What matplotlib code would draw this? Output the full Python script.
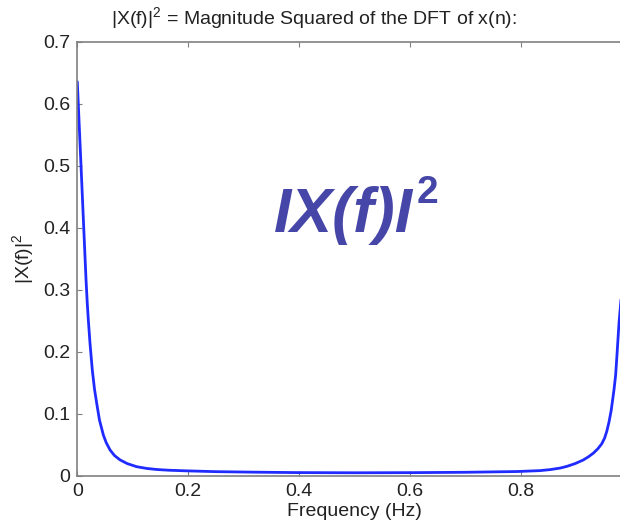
import numpy as np
import matplotlib
matplotlib.use('Agg')
import matplotlib.pyplot as plt

# |X(f)|^2 samples over one period (Hz)
freqs = [0.0, 0.0040, 0.0079, 0.0120, 0.0157, 0.018, 0.020, 0.0229, 0.025,
         0.027, 0.031, 0.035, 0.040, 0.047, 0.052, 0.059, 0.067, 0.077,
         0.090, 0.107, 0.125, 0.143, 0.165, 0.197, 0.25, 0.317, 0.395,
         0.5, 0.6, 0.7, 0.792, 0.834, 0.852, 0.870, 0.882, 0.897, 0.912,
         0.921, 0.930, 0.938, 0.945, 0.950, 0.954, 0.958, 0.962, 0.967,
         0.970, 0.972, 0.974, 0.976, 0.978, 0.982, 0.986, 0.99]
power = [0.636, 0.555, 0.476, 0.392, 0.317, 0.278, 0.250, 0.214, 0.192,
         0.171, 0.140, 0.117, 0.090, 0.066, 0.054, 0.042, 0.033, 0.026,
         0.020, 0.015, 0.0122, 0.0105, 0.0093, 0.0083, 0.0070, 0.0062,
         0.0055, 0.0052, 0.0054, 0.0060, 0.0072, 0.0087, 0.0103, 0.0128,
         0.0155, 0.020, 0.026, 0.031, 0.037, 0.044, 0.052, 0.061, 0.072,
         0.087, 0.106, 0.139, 0.163, 0.190, 0.218, 0.246, 0.267,
         0.31, 0.36, 0.45]

xticks = [0, 0.2, 0.4, 0.6, 0.8]
xticklabels = ['0', '0.2', '0.4', '0.6', '0.8']
yticks = [0, 0.1, 0.2, 0.3, 0.4, 0.5, 0.6, 0.7]
yticklabels = ['0', '0.1', '0.2', '0.3', '0.4', '0.5', '0.6', '0.7']

plt.rcParams['font.family'] = ['Liberation Sans', 'DejaVu Sans']
plt.rcParams['mathtext.fontset'] = 'custom'
plt.rcParams['mathtext.rm'] = 'Liberation Sans'
plt.rcParams['mathtext.it'] = 'Liberation Sans:italic'
plt.rcParams['mathtext.bf'] = 'Liberation Sans:bold'

TEXT = '#222222'
AXC = '#808080'
FS = 14
BIG = '#4646a8'

fig = plt.figure(figsize=(6.2, 5.24), dpi=100)
ax = fig.add_axes([77.3 / 620, 48 / 524, 555 / 620, 434 / 524])

ax.plot(freqs, power, color='#1f2bff', linewidth=2.0,
        solid_joinstyle='round', solid_capstyle='round')

ax.set_xlim(0, 1)
ax.set_ylim(0, 0.7)
ax.set_xticks(xticks)
ax.set_xticklabels(xticklabels)
ax.set_yticks(yticks)
ax.set_yticklabels(yticklabels)
ax.tick_params(direction='in', length=3.5, width=0.8, color=AXC,
               labelsize=FS, labelcolor=TEXT, top=True, right=True, pad=5)
for sp in ax.spines.values():
    sp.set_color(AXC)
    sp.set_linewidth(1.2)

ax.set_xlabel('Frequency (Hz)', fontsize=FS, color=TEXT, labelpad=2)
ax.set_ylabel(r'|X(f)|$^2$', fontsize=FS, color=TEXT, labelpad=5)

fig.text(314 / 620, 1 - 18 / 524,
         r'|X(f)|$^2$ = Magnitude Squared of the DFT of x(n):',
         ha='center', va='center', fontsize=FS, color=TEXT)

# big formula label inside the plot, superscript placed after the main text
big = ax.text(0.355, 0.393, 'IX(f)I', fontsize=45, fontweight='bold',
              fontstyle='italic', color=BIG, ha='left', va='baseline')
fig.canvas.draw()
bb = big.get_window_extent(renderer=fig.canvas.get_renderer())
x_end = ax.transData.inverted().transform((bb.x1, bb.y0))[0]
ax.text(x_end + 0.005, 0.44, '2', fontsize=28, fontweight='bold',
        color=BIG, ha='left', va='baseline')

fig.savefig('out.png', dpi=100)
